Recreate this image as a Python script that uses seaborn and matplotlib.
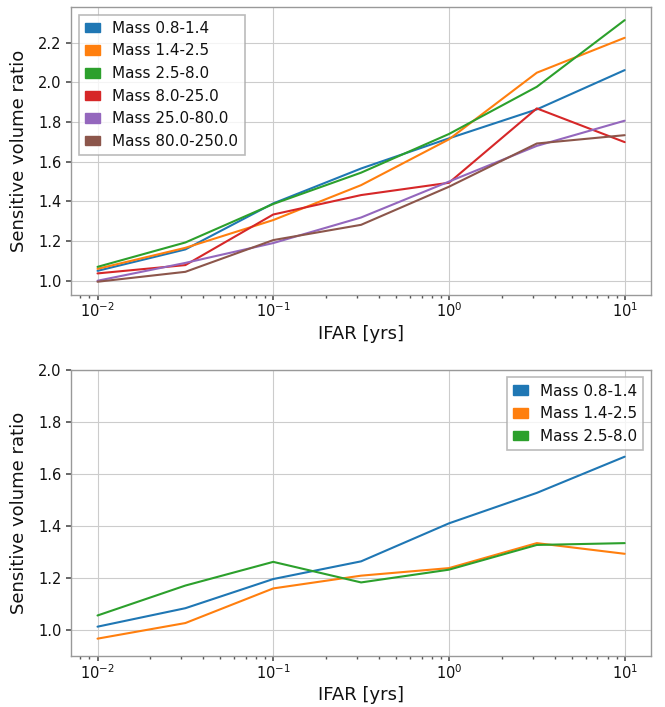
import numpy as np
import pandas as pd
import matplotlib
matplotlib.use("Agg")
import matplotlib.pyplot as plt
import seaborn as sns
from matplotlib.patches import Patch

sns.set_theme(style="whitegrid", palette="tab10")

# -----------------------------
# Data
# -----------------------------
ifar = [1e-2, 10**-1.5, 1e-1, 10**-0.5, 1e0, 10**0.5, 1e1]

top_labels = ["Mass 0.8-1.4", "Mass 1.4-2.5", "Mass 2.5-8.0",
              "Mass 8.0-25.0", "Mass 25.0-80.0", "Mass 80.0-250.0"]
top_m08_14 = [1.05, 1.158, 1.39, 1.566, 1.718, 1.864, 2.062]
top_m14_25 = [1.06, 1.166, 1.306, 1.482, 1.713, 2.049, 2.225]
top_m25_80 = [1.07, 1.193, 1.387, 1.545, 1.74, 1.978, 2.314]
top_m80_250 = [1.037, 1.079, 1.334, 1.432, 1.494, 1.869, 1.699]
top_m250_800 = [1.0, 1.09, 1.19, 1.319, 1.5, 1.68, 1.807]
top_m800_2500 = [0.995, 1.045, 1.205, 1.282, 1.474, 1.692, 1.734]

bot_labels = ["Mass 0.8-1.4", "Mass 1.4-2.5", "Mass 2.5-8.0"]
bot_m08_14 = [1.013, 1.084, 1.196, 1.264, 1.41, 1.527, 1.666]
bot_m14_25 = [0.967, 1.027, 1.16, 1.209, 1.238, 1.334, 1.293]
bot_m25_80 = [1.056, 1.171, 1.262, 1.183, 1.232, 1.327, 1.334]

top_series = [top_m08_14, top_m14_25, top_m25_80, top_m80_250, top_m250_800, top_m800_2500]
bot_series = [bot_m08_14, bot_m14_25, bot_m25_80]


def to_long(labels, series):
    rows = []
    for lab, vals in zip(labels, series):
        for x, v in zip(ifar, vals):
            rows.append({"IFAR": x, "ratio": v, "bin": lab})
    return pd.DataFrame(rows)


colors = sns.color_palette("tab10")

plt.rcParams["font.family"] = ["DejaVu Sans"]
plt.rcParams["text.color"] = "#111111"
plt.rcParams["axes.labelcolor"] = "#111111"
plt.rcParams["xtick.color"] = "#555555"
plt.rcParams["ytick.color"] = "#555555"
plt.rcParams["xtick.labelcolor"] = "#111111"
plt.rcParams["ytick.labelcolor"] = "#111111"

fig = plt.figure(figsize=(6.65, 7.07), dpi=100)
ax1 = fig.add_axes([0.107, 0.583, 0.872, 0.407])
ax2 = fig.add_axes([0.107, 0.072, 0.872, 0.405])


def style_ax(ax):
    ax.set_xscale("log")
    for s in ax.spines.values():
        s.set_color("#999999")
        s.set_linewidth(1.0)
    ax.grid(True, which="major", color="#cccccc", linewidth=0.8)
    ax.grid(False, which="minor")
    ax.tick_params(axis="both", which="major", direction="out", length=3.5,
                   labelsize=10.5, left=True, bottom=True)
    ax.tick_params(axis="y", which="major", pad=3.5)
    ax.tick_params(axis="x", which="major", pad=1.5)
    ax.tick_params(axis="x", which="minor", direction="out", length=2, bottom=True)
    ax.set_xlabel("IFAR [yrs]", fontsize=13, labelpad=3)
    ax.set_ylabel("Sensitive volume ratio", fontsize=13, labelpad=7)


# -----------------------------
# Top panel
# -----------------------------
df_top = to_long(top_labels, top_series)
sns.lineplot(data=df_top, x="IFAR", y="ratio", hue="bin", palette=colors[:6],
             linewidth=1.5, legend=False, ax=ax1)
style_ax(ax1)
ax1.set_yticks([1.0, 1.2, 1.4, 1.6, 1.8, 2.0, 2.2])
handles = [Patch(color=colors[i], label=lab) for i, lab in enumerate(top_labels)]
leg = ax1.legend(handles=handles, loc="upper left", fontsize=11, fancybox=False,
                 frameon=True, edgecolor="#aaaaaa", handlelength=1.0, handleheight=0.6)
leg.get_frame().set_linewidth(1.2)

# -----------------------------
# Bottom panel
# -----------------------------
df_bot = to_long(bot_labels, bot_series)
sns.lineplot(data=df_bot, x="IFAR", y="ratio", hue="bin", palette=colors[:3],
             linewidth=1.5, legend=False, ax=ax2)
style_ax(ax2)
ax2.set_ylim(0.9, 2.0)
ax2.set_yticks([1.0, 1.2, 1.4, 1.6, 1.8, 2.0])
handles = [Patch(color=colors[i], label=lab) for i, lab in enumerate(bot_labels)]
leg = ax2.legend(handles=handles, loc="upper right", fontsize=11, fancybox=False,
                 frameon=True, edgecolor="#aaaaaa", handlelength=1.0, handleheight=0.6)
leg.get_frame().set_linewidth(1.2)

fig.savefig("out.png", dpi=100)
